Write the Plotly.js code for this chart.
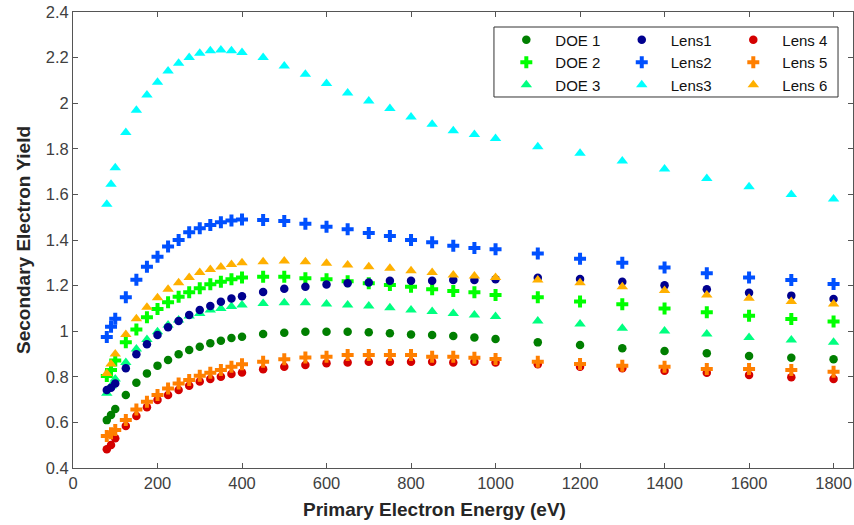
<!DOCTYPE html>
<html>
<head>
<meta charset="utf-8">
<script src="https://cdn.plot.ly/plotly-3.0.1.min.js"></script>
<style>html,body{margin:0;padding:0;background:#fff;}#chart{width:854px;height:525px;}</style>
</head>
<body>
<div id="chart"></div>
<script>
const energy = [80,90,100,125,150,175,200,225,250,275,300,325,350,375,400,450,500,550,600,650,700,750,800,850,900,950,1000,1100,1200,1300,1400,1500,1600,1700,1800];

const doe1 = [0.61,0.632,0.659,0.72,0.774,0.815,0.849,0.874,0.899,0.918,0.932,0.947,0.958,0.97,0.976,0.988,0.993,0.998,0.998,0.998,0.995,0.991,0.986,0.983,0.979,0.972,0.966,0.951,0.939,0.925,0.913,0.903,0.891,0.884,0.877];
const doe2 = [0.803,0.83,0.871,0.951,1.008,1.061,1.097,1.127,1.151,1.171,1.188,1.206,1.217,1.228,1.235,1.239,1.239,1.232,1.228,1.219,1.21,1.203,1.195,1.184,1.176,1.171,1.159,1.149,1.13,1.118,1.10,1.083,1.068,1.054,1.042];
const doe3 = [0.728,0.76,0.79,0.863,0.922,0.964,0.998,1.027,1.049,1.067,1.078,1.093,1.10,1.108,1.115,1.122,1.125,1.125,1.119,1.115,1.11,1.103,1.093,1.086,1.078,1.071,1.064,1.045,1.032,1.013,1.001,0.988,0.972,0.961,0.951];
const lens1 = [0.742,0.752,0.771,0.837,0.899,0.943,0.983,1.017,1.045,1.071,1.093,1.111,1.129,1.143,1.153,1.172,1.186,1.195,1.205,1.21,1.214,1.221,1.221,1.221,1.225,1.225,1.228,1.234,1.229,1.217,1.201,1.184,1.169,1.156,1.141];
const lens2 = [0.975,1.02,1.055,1.149,1.226,1.283,1.327,1.371,1.40,1.434,1.451,1.466,1.478,1.485,1.49,1.488,1.483,1.471,1.458,1.447,1.431,1.418,1.40,1.39,1.375,1.365,1.359,1.341,1.318,1.30,1.279,1.254,1.236,1.225,1.207];
const lens3 = [1.557,1.644,1.717,1.872,1.969,2.036,2.092,2.141,2.175,2.20,2.219,2.23,2.233,2.23,2.222,2.20,2.163,2.127,2.086,2.045,2.01,1.977,1.94,1.908,1.879,1.863,1.845,1.809,1.78,1.746,1.711,1.67,1.634,1.60,1.58];
const lens4 = [0.482,0.501,0.53,0.584,0.628,0.666,0.698,0.72,0.742,0.761,0.779,0.79,0.80,0.812,0.819,0.833,0.844,0.852,0.859,0.863,0.866,0.866,0.866,0.866,0.863,0.866,0.863,0.855,0.844,0.837,0.827,0.818,0.808,0.798,0.79];
const lens5 = [0.54,0.552,0.567,0.61,0.657,0.691,0.72,0.749,0.771,0.786,0.805,0.818,0.83,0.844,0.855,0.866,0.877,0.885,0.888,0.896,0.896,0.896,0.896,0.888,0.888,0.884,0.878,0.866,0.856,0.849,0.844,0.834,0.834,0.83,0.822];
const lens6 = [0.815,0.856,0.9,0.986,1.055,1.105,1.147,1.184,1.213,1.235,1.257,1.271,1.282,1.293,1.30,1.305,1.308,1.305,1.298,1.29,1.283,1.276,1.265,1.257,1.247,1.242,1.236,1.225,1.213,1.195,1.178,1.159,1.144,1.13,1.119];

const seriesNames = ['DOE 1','DOE 2','DOE 3','Lens1','Lens2','Lens3','Lens 4','Lens 5','Lens 6'];
const seriesValues = [doe1, doe2, doe3, lens1, lens2, lens3, lens4, lens5, lens6];
const seriesColors = ['#007f00','#00ff00','#00ff80','#00008f','#0050ff','#00ffff','#d40000','#ff7f00','#ffb000'];
const seriesSymbols = ['circle','cross','triangle-up','circle','cross','triangle-up','circle','cross','triangle-up'];
const symbolSize = {'circle': 8.5, 'cross': 10, 'triangle-up': 10};
// legend columns: DOE 1-3 | Lens1-3 | Lens 4-6
const legendIds = ['legend','legend','legend','legend2','legend2','legend2','legend3','legend3','legend3'];

const xTicks = [0,200,400,600,800,1000,1200,1400,1600,1800];
const yTicks = [0.4,0.6,0.8,1,1.2,1.4,1.6,1.8,2,2.2,2.4];

const traces = seriesNames.map((name, i) => ({
  type: 'scatter',
  mode: 'markers',
  name: name,
  x: energy,
  y: seriesValues[i],
  legend: legendIds[i],
  marker: {
    color: seriesColors[i],
    symbol: seriesSymbols[i],
    size: symbolSize[seriesSymbols[i]],
    line: {width: 0}
  }
}));

const axisColor = '#555555';
const fontFam = '"Liberation Sans", Arial, Helvetica, sans-serif';

function legendAt(xp) {
  return {
    orientation: 'v',
    x: xp, xanchor: 'left',
    y: 0.975, yanchor: 'top',
    bgcolor: 'rgba(0,0,0,0)',
    borderwidth: 0,
    itemwidth: 48,
    font: {family: fontFam, size: 15, color: '#111111'},
    traceorder: 'normal'
  };
}

const layout = {
  width: 854,
  height: 525,
  margin: {l: 73, r: 1, t: 12, b: 57},
  paper_bgcolor: '#ffffff',
  plot_bgcolor: '#ffffff',
  font: {family: fontFam, size: 16.5, color: '#333333'},
  showlegend: true,
  legend: legendAt(0.544),
  legend2: legendAt(0.692),
  legend3: legendAt(0.835),
  shapes: [{
    type: 'rect', xref: 'paper', yref: 'paper',
    x0: 0.5397, x1: 0.9808, y0: 0.8136, y1: 0.9671,
    line: {color: '#333333', width: 1},
    fillcolor: '#ffffff',
    layer: 'above'
  }],
  xaxis: {
    range: [0, 1846],
    tickvals: xTicks,
    ticks: 'inside', ticklen: 5, tickwidth: 1, tickcolor: axisColor,
    showline: true, linecolor: axisColor, linewidth: 1, mirror: 'ticks',
    showgrid: false, zeroline: false,
    tickfont: {family: fontFam, size: 16.5, color: '#404040'}
  },
  yaxis: {
    range: [0.4, 2.4],
    tickvals: yTicks,
    ticks: 'inside', ticklen: 5, tickwidth: 1, tickcolor: axisColor,
    showline: true, linecolor: axisColor, linewidth: 1, mirror: 'ticks',
    showgrid: false, zeroline: false,
    tickfont: {family: fontFam, size: 16.5, color: '#404040'},
    title: {text: 'Secondary Electron Yield', font: {family: fontFam, size: 19, color: '#262626', weight: 'bold'}, standoff: 10}
  },
  annotations: [{
    text: '<b>Primary Electron Energy (eV)</b>',
    xref: 'paper', yref: 'paper',
    x: 0.464, y: 0, xanchor: 'center', yanchor: 'top', yshift: -29,
    showarrow: false,
    font: {family: fontFam, size: 19, color: '#262626'}
  }]
};

Plotly.newPlot('chart', traces, layout, {displayModeBar: false, staticPlot: true});
</script>
</body>
</html>
